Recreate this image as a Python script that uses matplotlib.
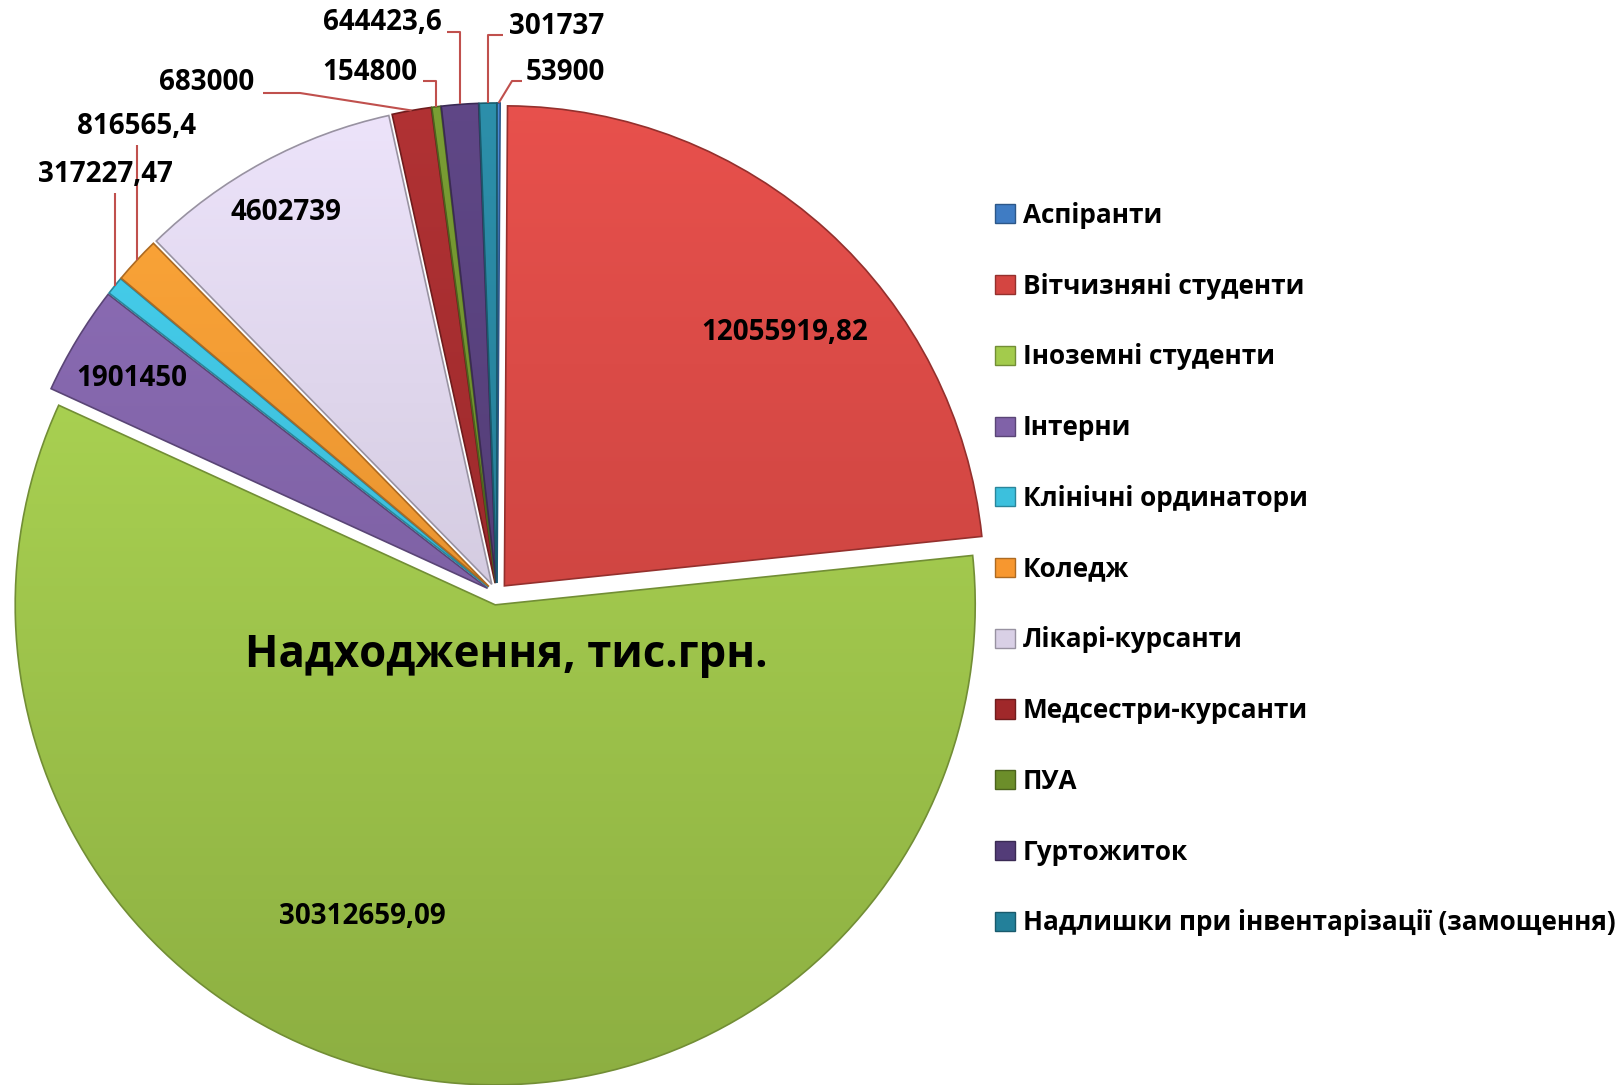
import matplotlib
matplotlib.use('Agg')
import matplotlib.pyplot as plt
import matplotlib.colors as mcolors
from matplotlib.patches import Patch
import numpy as np

plt.rcParams['font.family'] = ['Open Sans', 'DejaVu Sans']
plt.rcParams['font.weight'] = 'bold'

# income by source
categories = ['Аспіранти', 'Вітчизняні студенти', 'Іноземні студенти',
              'Інтерни', 'Клінічні ординатори', 'Коледж', 'Лікарі-курсанти',
              'Медсестри-курсанти', 'ПУА', 'Гуртожиток',
              'Надлишки при інвентарізації (замощення)']
values = [53900, 12055919.82, 30312659.09, 1901450, 317227.47, 816565.4,
          4602739, 683000, 154800, 644423.6, 301737]
colors = ['#3F7CC4', '#D44541', '#A3CB4C', '#8062A8', '#3CC0DD', '#F7972F',
          '#D9D0E6', '#A0282A', '#6C8E2A', '#533C78', '#23809A']
title = 'Надходження, тис.грн.'

W, H = 1620, 1085
CX, CY = 497, H - 594   # pie centre in pixels (y up)
R = 480
EXPL = 11


def fmt(v):
    s = ('%.2f' % v).rstrip('0').rstrip('.')
    return s.replace('.', ',')


fig = plt.figure(figsize=(W / 100, H / 100), dpi=100)
ax = fig.add_axes([0, 0, 1, 1])

wedges, _ = ax.pie(values, explode=[EXPL] * len(values), colors=colors,
                   startangle=90, counterclock=False, center=(CX, CY),
                   radius=R, frame=True,
                   wedgeprops=dict(linewidth=1.2))

# soft vertical gradient inside every slice
t = np.linspace(0, 1, 256)[:, None, None]
for w, c in zip(wedges, colors):
    rgb = np.array(mcolors.to_rgb(c))
    top = np.clip(rgb * 1.06 + 0.03, 0, 1)
    bot = rgb * 0.86
    grad = top * (1 - t) + bot * t
    im = ax.imshow(grad, extent=(CX - R - 20, CX + R + 20, CY - R - 20, CY + R + 20),
                   origin='upper', aspect='auto', zorder=1.5)
    im.set_clip_path(w)
    w.set_edgecolor(tuple(rgb * 0.7))
    w.set_facecolor('none')
    w.set_zorder(2)

ax.set_xlim(0, W)
ax.set_ylim(0, H)
ax.set_aspect('equal')
ax.axis('off')

# inside labels (pixel positions, y from top)
inside = {1: (785, 333), 2: (362, 917), 3: (132, 378), 6: (286, 212)}
for i, (x, y) in inside.items():
    ax.text(x, H - y, fmt(values[i]), ha='center', va='center',
            fontsize=20, fontweight='bold', zorder=5)

# outside labels: text centre, bend point of leader line, end of leader line
outside = {
    9: ((382, 23), 'up', 447),
    10: ((557, 26), 'up', 503),
    8: ((370, 72), 'up', 423),
    0: ((565, 72), (512, 81), 522),
    7: ((207, 82), (300, 93), 263),
    5: ((137, 126), 'vert', 145),
    4: ((105, 174), 'vert', 193),
}
total = sum(values)
cum = 0
mids = []
for v in values:
    mids.append(cum + v / 2)
    cum += v
for i, (pos, bend, end) in outside.items():
    ang = np.deg2rad(90 - 360 * mids[i] / total)
    rx = CX + (R + EXPL) * np.cos(ang)
    ry = CY + (R + EXPL) * np.sin(ang)
    tx, ty = pos
    if bend == 'vert':
        xs, ys = [rx, rx], [ry, H - end]
    elif bend == 'up':
        by = ty + 9
        xs, ys = [rx, rx, end], [ry, H - by, H - by]
    else:
        xs, ys = [rx, bend[0], end], [ry, H - bend[1], H - bend[1]]
    ax.plot(xs, ys, color='#C0504D', lw=1.5, zorder=3, solid_capstyle='butt')
    ax.text(tx, H - ty, fmt(values[i]), ha='center', va='center',
            fontsize=20, fontweight='bold', zorder=5)

ax.text(506, H - 656, title, ha='center', va='center', fontsize=31.5,
        fontweight='bold', zorder=5)

handles = [Patch(facecolor=c, edgecolor=tuple(np.array(mcolors.to_rgb(c)) * 0.7))
           for c in colors]
ax.legend(handles, categories, loc='upper left', bbox_to_anchor=(995 / W, 1 - 202 / H),
          bbox_transform=fig.transFigure, frameon=False,
          prop=dict(weight='bold', size=18.8),
          handlelength=0.75, handleheight=0.75, handletextpad=0.32,
          labelspacing=1.675, borderpad=0, borderaxespad=0)

plt.savefig('out.png', dpi=100)
